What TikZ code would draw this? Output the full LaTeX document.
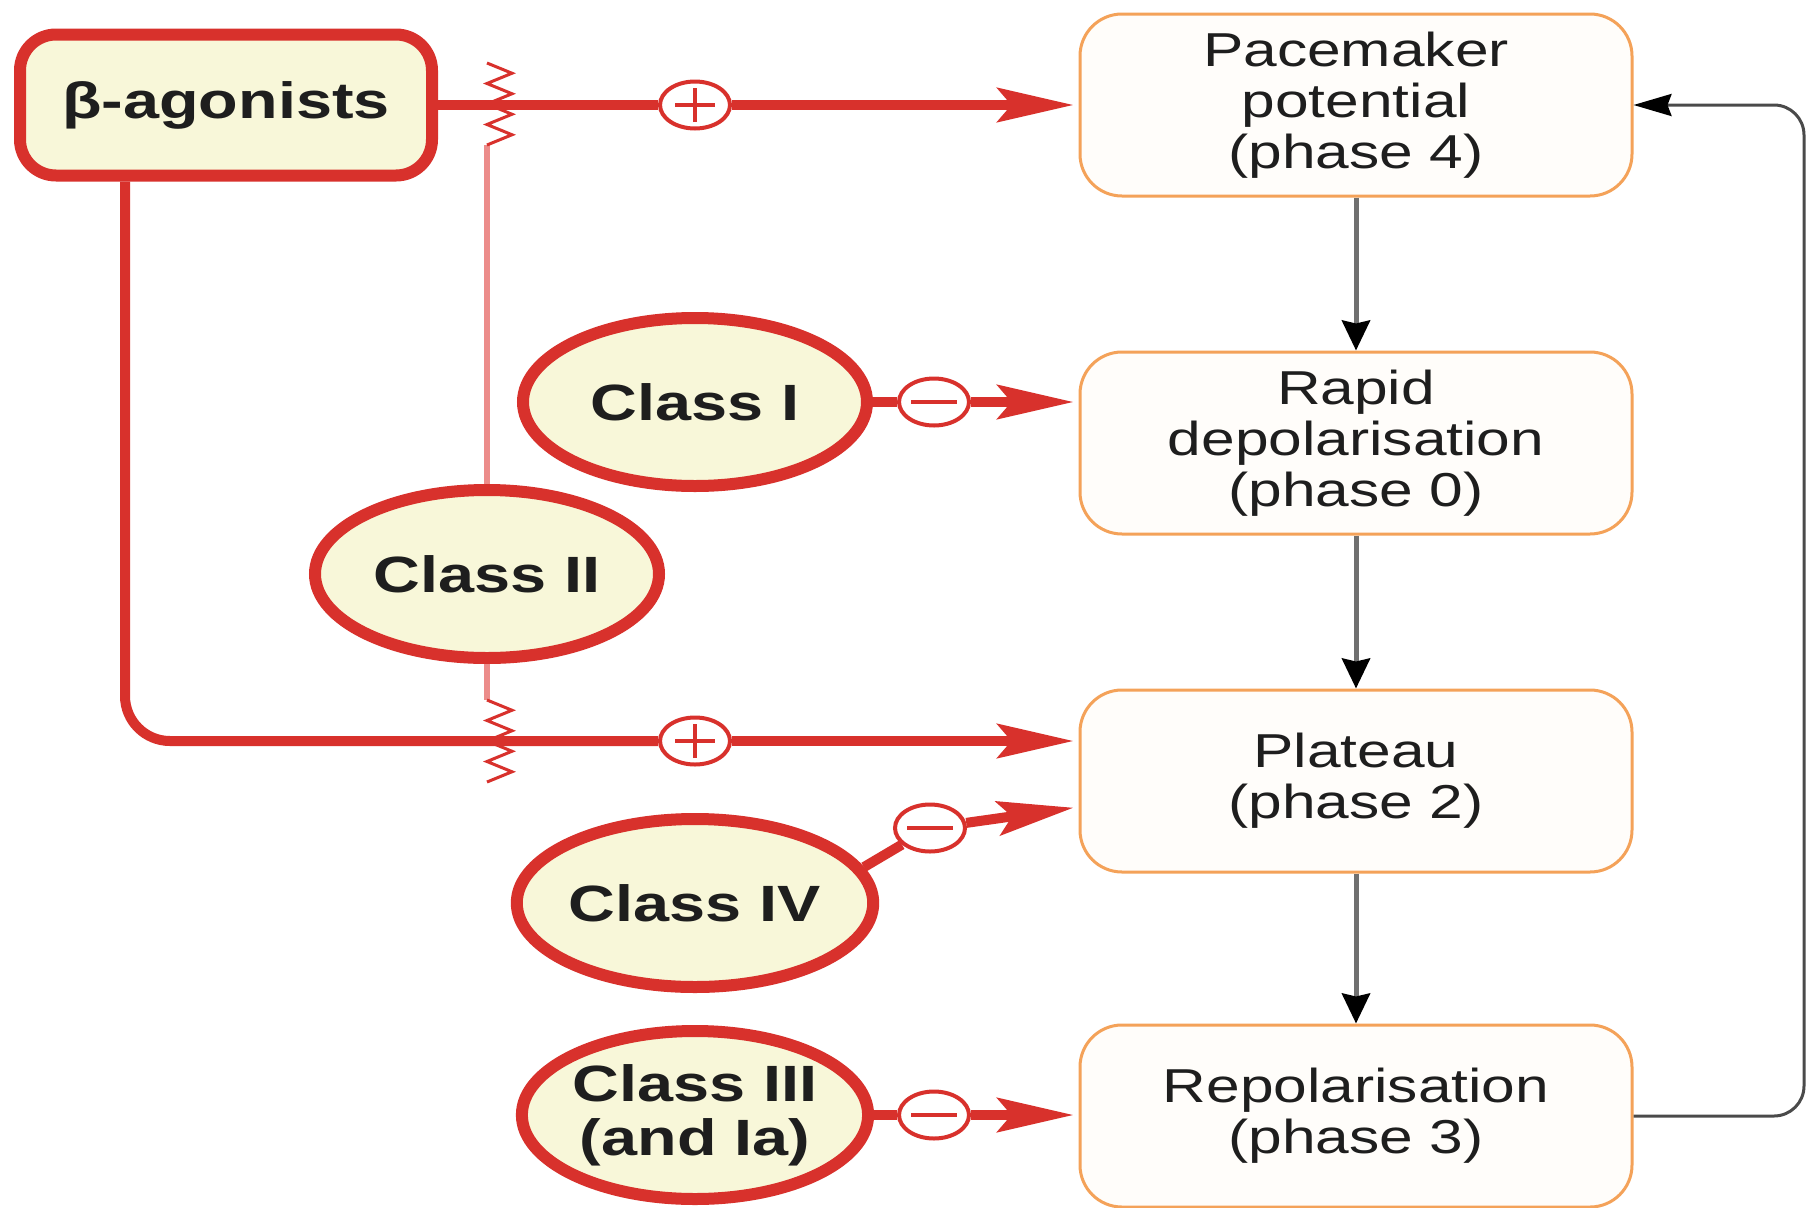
\documentclass[tikz,border=0pt]{standalone}
\usepackage{fontspec}
\setmainfont{Liberation Sans}
\newfontfamily\stfont[FakeStretch=1.27]{Liberation Sans}
\usetikzlibrary{arrows.meta,shapes.geometric}
\definecolor{rd}{HTML}{D8312C}
\definecolor{pk}{HTML}{EC8C8A}
\definecolor{yl}{HTML}{F8F7D9}
\definecolor{org}{HTML}{F4A259}
\definecolor{bxfill}{HTML}{FFFDFA}
\definecolor{txt}{HTML}{1E1E1E}
\definecolor{gl}{HTML}{707070}
\definecolor{fbc}{HTML}{4A4A4A}
\begin{document}
\begin{tikzpicture}[x=1pt,y=-1pt,
 phbox/.style={draw=org, line width=3pt, fill=bxfill, rounded corners=42pt, minimum width=552pt, minimum height=182pt, align=center, text=txt, font=\stfont\fontsize{47.6}{51}\selectfont, inner sep=0pt},
 agbox/.style={draw=rd, line width=12pt, fill=yl, rounded corners=36pt, minimum width=412pt, minimum height=141pt, text=txt, font=\stfont\bfseries\fontsize{51}{54}\selectfont, inner sep=0pt},
 clsell/.style={ellipse, draw=rd, line width=12pt, fill=yl, minimum width=344pt, minimum height=168pt, align=center, text=txt, font=\stfont\bfseries\fontsize{51}{54}\selectfont, inner sep=0pt},
 signc/.style={ellipse, draw=rd, line width=4pt, fill=white, minimum width=70pt, minimum height=47pt, inner sep=0pt},
 signbar/.style={draw=rd, line width=4pt},
 redline/.style={draw=rd, line width=10pt},
 redarrow/.style={redline, -{Stealth[length=76pt,width=34pt,inset=14pt]}, shorten >=5pt},
 blockline/.style={draw=pk, line width=6pt},
 zig/.style={draw=rd, line width=3pt, line join=miter},
 flowarrow/.style={draw=gl, line width=5pt, -{Stealth[length=30pt,width=28pt,inset=3pt,color=black]}},
 fbline/.style={draw=fbc, line width=3pt, rounded corners=30pt, -{Stealth[length=38pt,width=22pt,inset=4pt,color=black]}},
]
\useasboundingbox (0,0) rectangle (1808,1208);
\fill[white] (0,0) rectangle (1808,1208);

% blocking line of Class II
\coordinate (zt) at (487,145);
\coordinate (zb) at (487,700);
\coordinate (fbx) at (1804,0);

\node[clsell] (c2) at (487,574) {Class II};
\draw[blockline] (c2) -- (zt);
\draw[blockline] (c2) -- (zb);
\draw[zig] (487,63) -- (512,73.25) -- (487,83.5) -- (512,93.75) -- (487,104) -- (512,114.25) -- (487,124.5) -- (512,134.75) -- (zt);
\draw[zig] (zb) -- (512,710.25) -- (487,720.5) -- (512,730.75) -- (487,741) -- (512,751.25) -- (487,761.5) -- (512,771.75) -- (487,782);

% nodes
\node[agbox] (beta) at (226,105) {β-agonists};
\node[clsell] (c1) at (695,402) {Class I};
\node[clsell] (c4) at (695,903) {Class IV};
\node[clsell] (c3) at (695,1115) {Class III\\(and Ia)};
\node[phbox] (p4) at (1356,105) {Pacemaker\\potential\\(phase 4)};
\node[phbox] (p0) at (1356,443) {Rapid\\depolarisation\\(phase 0)};
\node[phbox] (p2) at (1356,781) {Plateau\\(phase 2)};
\node[phbox] (p3) at (1356,1116) {Repolarisation\\(phase 3)};

\node[signc] (s1) at (695,105) {};
\node[signc] (s2) at (695,741) {};
\node[signc] (m1) at (934,402) {};
\node[signc] (m2) at (930,828) {};
\node[signc] (m3) at (934,1115) {};

% red connectors
\draw[redline] (beta) -- (s1);
\draw[redarrow] (s1) -- (p4);
\draw[redline, rounded corners=45pt] ([xshift=-101pt]beta.south) |- (s2.west);
\draw[redarrow] (s2) -- (s2 -| p2.west);
\draw[redline] (c1) -- (m1);
\draw[redarrow] (m1) -- (m1 -| p0.west);
\draw[redline] (c4.12) -- (m2);
\draw[redarrow] (m2) -- ([yshift=-26pt]p2.west);
\draw[redline] (c3) -- (m3);
\draw[redarrow] (m3) -- (m3 -| p3.west);

% signs
\foreach \s in {s1,s2} {
  \draw[signbar] ([xshift=-20pt]\s.center) -- ([xshift=20pt]\s.center);
  \draw[signbar] ([yshift=-17pt]\s.center) -- ([yshift=17pt]\s.center);
}
\foreach \s in {m1,m2,m3} {
  \draw[signbar] ([xshift=-23pt]\s.center) -- ([xshift=23pt]\s.center);
}

% phase flow
\draw[flowarrow] (p4) -- (p0);
\draw[flowarrow] (p0) -- (p2);
\draw[flowarrow] (p2) -- (p3);
\draw[fbline] (p3.east) -- (p3.east -| fbx) -- (p4.east -| fbx) -- (p4.east);
\end{tikzpicture}
\end{document}
